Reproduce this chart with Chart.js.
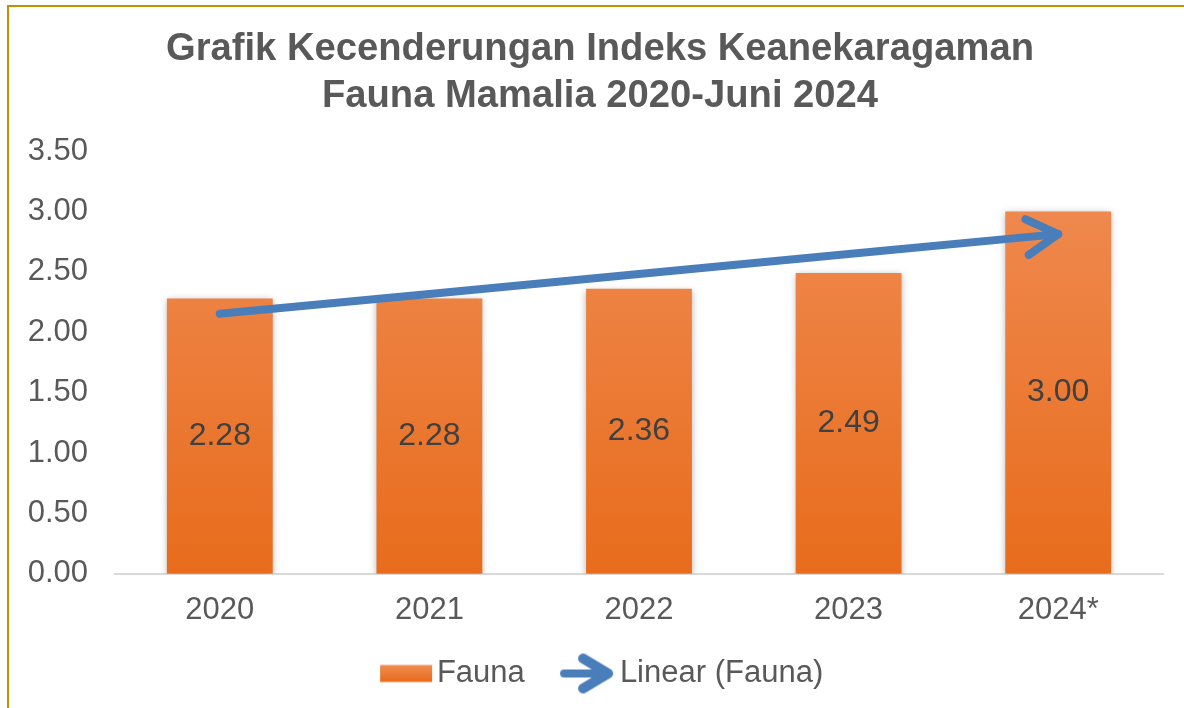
<!DOCTYPE html>
<html>
<head>
<meta charset="utf-8">
<script src="https://cdn.jsdelivr.net/npm/chart.js@4.4.1/dist/chart.umd.min.js"></script>
<style>
  html, body { margin: 0; padding: 0; background: #ffffff; overflow: hidden; }
  #wrap { position: relative; width: 1184px; height: 708px; }
  #c { position: absolute; left: 0; top: 0; }
  .bt { position: absolute; left: 7px; top: 5px; width: 1177px; height: 2px; background: #BF9000; }
  .bl { position: absolute; left: 7px; top: 5px; width: 2px; height: 703px; background: #BF9000; }
</style>
</head>
<body>
<div id="wrap">
  <canvas id="c" width="1184" height="708"></canvas>
  <div class="bt"></div>
  <div class="bl"></div>
</div>
<script>
// ---- data ----
const titleLines = ['Grafik Kecenderungan Indeks Keanekaragaman', 'Fauna Mamalia 2020-Juni 2024'];
const categories = ['2020', '2021', '2022', '2023', '2024*'];
const faunaValues = [2.28, 2.28, 2.36, 2.49, 3.00];
const seriesNames = ['Fauna', 'Linear (Fauna)'];
const yMin = 0, yMax = 3.5, yStep = 0.5;

// linear trend (least squares) of the Fauna series, as Excel's "Linear" trendline
function linearTrend(vals) {
  const n = vals.length;
  const xs = vals.map((_, i) => i + 1);
  const mx = xs.reduce((a, b) => a + b, 0) / n;
  const my = vals.reduce((a, b) => a + b, 0) / n;
  let num = 0, den = 0;
  for (let i = 0; i < n; i++) { num += (xs[i] - mx) * (vals[i] - my); den += (xs[i] - mx) ** 2; }
  const b = num / den, a = my - b * mx;
  return xs.map(x => a + b * x);
}
const trendValues = linearTrend(faunaValues);

const FONT = "'Liberation Sans', Arial, sans-serif";
const TXT = '#595959';
const BLUE = '#4A7EBB';

function barGradient(ctx, top, bottom) {
  const g = ctx.createLinearGradient(0, top, 0, bottom);
  g.addColorStop(0, '#F08D55');
  g.addColorStop(1, '#E86C1C');
  return g;
}

// legend icons (images centred on the legend box)
function makeFaunaIcon() {
  const c = document.createElement('canvas');
  c.width = 200; c.height = 20;
  const x = c.getContext('2d');
  const g = x.createLinearGradient(0, 1, 0, 18);
  g.addColorStop(0, '#F08D55'); g.addColorStop(1, '#E86C1C');
  x.fillStyle = g;
  x.fillRect(93, 1.5, 52, 17);
  return c;
}
function makeArrowIcon() {
  const c = document.createElement('canvas');
  c.width = 200; c.height = 44;
  const x = c.getContext('2d');
  x.strokeStyle = BLUE; x.lineCap = 'round'; x.lineJoin = 'round';
  x.lineWidth = 8;
  x.beginPath(); x.moveTo(94, 22); x.lineTo(136, 22); x.stroke();
  x.lineWidth = 10;
  x.beginPath(); x.moveTo(113, 7); x.lineTo(138, 22); x.lineTo(113, 37); x.stroke();
  return c;
}
const legendIcons = [makeFaunaIcon(), makeArrowIcon()];

const titlePlugin = {
  id: 'twoLineTitle',
  afterDraw(chart) {
    const ctx = chart.ctx;
    ctx.save();
    ctx.font = 'bold 38.2px ' + FONT;
    ctx.fillStyle = TXT;
    ctx.textAlign = 'center';
    ctx.textBaseline = 'middle';
    ctx.fillText(titleLines[0], 600, 49);
    ctx.fillText(titleLines[1], 600, 96);
    ctx.restore();
  }
};

const shadowPlugin = {
  id: 'barShadow',
  beforeDatasetDraw(chart, args) {
    if (args.index !== 0) return;
    const ctx = chart.ctx;
    ctx.save();
    ctx.shadowColor = 'rgba(0,0,0,0.3)';
    ctx.shadowBlur = 7;
    ctx.shadowOffsetX = 0;
    ctx.shadowOffsetY = 2;
  },
  afterDatasetDraw(chart, args) {
    if (args.index !== 0) return;
    chart.ctx.restore();
  }
};

const labelPlugin = {
  id: 'barLabels',
  afterDatasetsDraw(chart) {
    const ctx = chart.ctx;
    const meta = chart.getDatasetMeta(0);
    ctx.save();
    ctx.font = '32px ' + FONT;
    ctx.fillStyle = '#404040';
    ctx.textAlign = 'center';
    ctx.textBaseline = 'middle';
    meta.data.forEach((bar, i) => {
      const y = (bar.y + bar.base) / 2;
      ctx.fillText(faunaValues[i].toFixed(2), bar.x, y);
    });
    ctx.restore();
  }
};

const arrowPlugin = {
  id: 'trendArrow',
  afterDatasetsDraw(chart) {
    const meta = chart.getDatasetMeta(1);
    const pts = meta.data;
    if (pts.length < 2) return;
    const p1 = pts[pts.length - 2], p2 = pts[pts.length - 1];
    const ang = Math.atan2(p2.y - p1.y, p2.x - p1.x);
    const L = 36, spread = 0.52;
    const ctx = chart.ctx;
    ctx.save();
    ctx.strokeStyle = BLUE; ctx.lineWidth = 8; ctx.lineCap = 'round'; ctx.lineJoin = 'round';
    ctx.beginPath();
    ctx.moveTo(p2.x - L * Math.cos(ang - spread), p2.y - L * Math.sin(ang - spread));
    ctx.lineTo(p2.x, p2.y);
    ctx.lineTo(p2.x - L * Math.cos(ang + spread), p2.y - L * Math.sin(ang + spread));
    ctx.stroke();
    ctx.restore();
  }
};

new Chart(document.getElementById('c'), {
  data: {
    labels: categories,
    datasets: [
      {
        type: 'bar',
        label: seriesNames[0],
        data: faunaValues,
        backgroundColor: (ctx) => {
          const ca = ctx.chart.chartArea;
          if (!ca) return '#EE7F3A';
          return barGradient(ctx.chart.ctx, ca.top, ca.bottom);
        },
        borderWidth: 0,
        barPercentage: 0.505,
        categoryPercentage: 1.0,
        order: 2
      },
      {
        type: 'line',
        label: seriesNames[1],
        data: trendValues,
        borderColor: BLUE,
        borderWidth: 8,
        borderCapStyle: 'round',
        pointRadius: 0,
        pointHoverRadius: 0,
        fill: false,
        tension: 0,
        order: 1
      }
    ]
  },
  options: {
    responsive: false,
    devicePixelRatio: 1,
    animation: false,
    events: [],
    layout: { padding: { left: 13, right: 21, top: 151, bottom: 9 } },
    plugins: {
      title: { display: false },
      legend: {
        display: true,
        position: 'bottom',
        labels: {
          color: TXT,
          font: { family: FONT, size: 31 },
          usePointStyle: true,
          pointStyleWidth: 68.6,
          padding: 11,
          generateLabels: (chart) => seriesNames.map((n, i) => ({
            text: n,
            pointStyle: legendIcons[i],
            fillStyle: 'transparent',
            strokeStyle: 'transparent',
            lineWidth: 0,
            datasetIndex: i,
            fontColor: TXT
          }))
        }
      },
      tooltip: { enabled: false }
    },
    scales: {
      x: {
        grid: { display: false, drawTicks: false },
        border: { display: true, color: '#D9D9D9', width: 2 },
        ticks: { color: TXT, font: { family: FONT, size: 31 }, padding: 18 }
      },
      y: {
        min: yMin, max: yMax,
        grid: { display: false, drawTicks: false },
        border: { display: false },
        afterFit: (scale) => { scale.width = 102; },
        ticks: {
          stepSize: yStep,
          color: TXT,
          font: { family: FONT, size: 31 },
          padding: 27,
          callback: (v) => Number(v).toFixed(2)
        }
      }
    }
  },
  plugins: [titlePlugin, shadowPlugin, labelPlugin, arrowPlugin]
});
</script>
</body>
</html>
